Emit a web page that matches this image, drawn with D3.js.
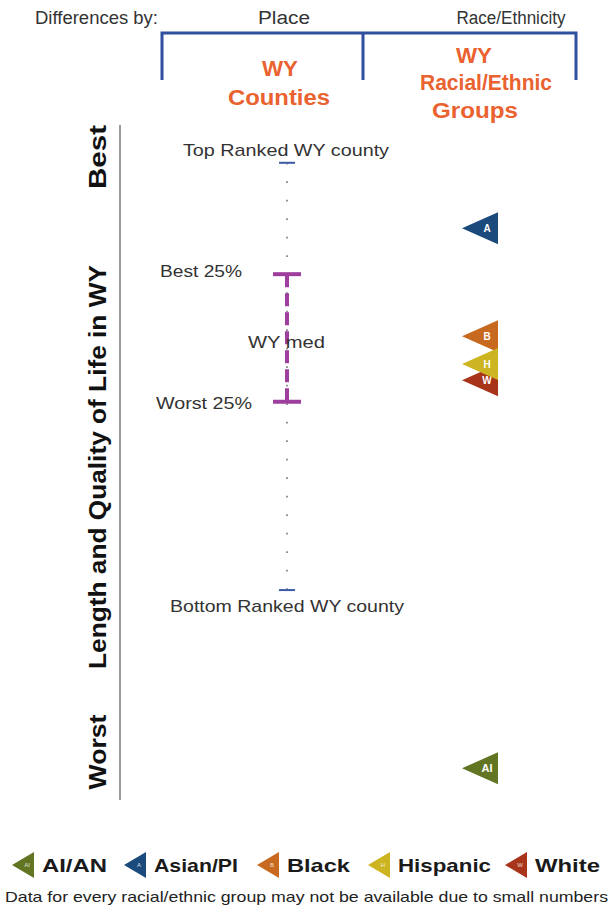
<!DOCTYPE html>
<html>
<head>
<meta charset="utf-8">
<script src="https://cdn.jsdelivr.net/npm/d3@7"></script>
<style>
  body { margin: 0; background: #fff; }
  svg text { font-family: "Liberation Sans", Arial, sans-serif; }
</style>
</head>
<body>
<svg id="chart" width="613" height="911"></svg>
<script>
'use strict';

// rank score: 0 = best, 100 = worst
var countyStats = { top: 5.6, q1: 22.1, median: 32.1, q3: 41.0, bottom: 68.9 };
var groups = ['AI/AN', 'Asian/PI', 'Black', 'Hispanic', 'White'];
var groupCodes = ['AI', 'A', 'B', 'H', 'W'];
var groupScores = [95.3, 15.3, 31.3, 35.4, 37.8];
var groupColors = ['#617523', '#1b4a7c', '#c7691f', '#cdb521', '#a8341a'];
var drawOrder = [0, 1, 4, 2, 3]; // Hispanic sits on top of Black and White

var svg = d3.select('#chart');
var y = d3.scaleLinear().domain([0, 100]).range([125, 800]);
var xCounty = 287, xGroup = 480;

function label(txt, x, yy, size, anchor, len, color, bold) {
  var t = svg.append('text').attr('x', x).attr('y', yy).attr('font-size', size)
    .attr('text-anchor', anchor || 'start').attr('fill', color || '#333').text(txt);
  if (len) t.attr('textLength', len).attr('lengthAdjust', 'spacingAndGlyphs');
  if (bold) t.attr('font-weight', 'bold');
  return t;
}

// header
label('Differences by:', 35, 24, 18, 'start', 123);
label('Place', 284, 24, 18, 'middle', 52);
label('Race/Ethnicity', 511, 24, 18, 'middle', 109);

svg.append('path')
  .attr('d', 'M162,80V33H576V80M363,33V80')
  .attr('fill', 'none').attr('stroke', '#2f4f9f').attr('stroke-width', 3);

var orange = '#ea6230';
label('WY', 280, 76, 22, 'middle', 36, orange, true);
label('Counties', 279, 105, 22, 'middle', 102, orange, true);
label('WY', 474, 63, 22, 'middle', 36, orange, true);
label('Racial/Ethnic', 486, 90, 22, 'middle', 132, orange, true);
label('Groups', 475, 118, 22, 'middle', 86, orange, true);

// vertical axis
svg.append('line').attr('x1', 120).attr('x2', 120).attr('y1', y(0)).attr('y2', y(100))
  .attr('stroke', '#999').attr('stroke-width', 2);
function vtext(txt, cy, len) {
  svg.append('text').attr('transform', 'translate(106,' + cy + ') rotate(-90)')
    .attr('text-anchor', 'middle').attr('font-size', 24).attr('font-weight', 'bold')
    .attr('fill', '#111').attr('textLength', len).attr('lengthAdjust', 'spacingAndGlyphs').text(txt);
}
vtext('Best', 157, 64);
vtext('Length and Quality of Life in WY', 467, 404);
vtext('Worst', 752, 75);

// county range: dotted line
svg.append('line').attr('x1', xCounty).attr('x2', xCounty)
  .attr('y1', y(countyStats.top) + 1).attr('y2', y(countyStats.bottom))
  .attr('stroke', '#777').attr('stroke-width', 1.6).attr('stroke-dasharray', '1.6,16.9')
  .attr('stroke-dashoffset', -17.5);
[countyStats.top, countyStats.bottom].forEach(function (v) {
  svg.append('line').attr('x1', xCounty - 8).attr('x2', xCounty + 8).attr('y1', y(v)).attr('y2', y(v))
    .attr('stroke', '#3b5aa6').attr('stroke-width', 2);
});

// interquartile bar
var purple = '#9e3f9f';
svg.append('line').attr('x1', xCounty).attr('x2', xCounty)
  .attr('y1', y(countyStats.q1)).attr('y2', y(countyStats.q3))
  .attr('stroke', purple).attr('stroke-width', 4).attr('stroke-dasharray', '13,6');
[countyStats.q1, countyStats.q3].forEach(function (v) {
  svg.append('line').attr('x1', xCounty - 14).attr('x2', xCounty + 14).attr('y1', y(v)).attr('y2', y(v))
    .attr('stroke', purple).attr('stroke-width', 4);
});

// county labels
label('Top Ranked WY county', 286, y(countyStats.top) - 7, 17, 'middle', 206);
label('Bottom Ranked WY county', 287, y(countyStats.bottom) + 22, 17, 'middle', 234);
label('Best 25%', 160, y(countyStats.q1) + 3, 17, 'start', 82);
label('Worst 25%', 156, y(countyStats.q3) + 7, 17, 'start', 96);
label('WY med', 248, y(countyStats.median) + 6, 17, 'start', 77);

// group markers
function marker(w, h) {
  return 'M' + (-w) + ',0L0,' + (-h / 2) + 'L0,' + (h / 2) + 'Z';
}
drawOrder.forEach(function (i) {
  var g = svg.append('g').attr('transform', 'translate(' + (xGroup + 18) + ',' + y(groupScores[i]) + ')');
  g.append('path').attr('d', marker(36, 32)).attr('fill', groupColors[i]);
  g.append('text').attr('x', -11).attr('y', 4).attr('text-anchor', 'middle')
    .attr('font-size', groupCodes[i].length > 1 ? 11 : 10).attr('font-weight', 'bold')
    .attr('fill', '#fff').text(groupCodes[i]);
});

// legend
var legendX = [34, 146, 279, 390, 527];
var legendW = [65, 84, 63, 93, 65];
groups.forEach(function (name, i) {
  var g = svg.append('g').attr('transform', 'translate(' + legendX[i] + ',865)');
  g.append('path').attr('d', marker(22, 26)).attr('fill', groupColors[i]);
  g.append('text').attr('x', -7).attr('y', 2).attr('text-anchor', 'middle').attr('font-size', 6)
    .attr('fill', '#fff').attr('opacity', 0.8).text(groupCodes[i]);
  g.append('text').attr('x', 8).attr('y', 7).attr('font-size', 19).attr('font-weight', 'bold')
    .attr('fill', '#1a1a1a').attr('textLength', legendW[i]).attr('lengthAdjust', 'spacingAndGlyphs').text(name);
});

svg.append('text').attr('x', 5).attr('y', 902).attr('font-size', 15).attr('fill', '#222')
  .attr('font-family', '"Open Sans", sans-serif')
  .attr('textLength', 603).attr('lengthAdjust', 'spacingAndGlyphs')
  .text('Data for every racial/ethnic group may not be available due to small numbers');
</script>
</body>
</html>
